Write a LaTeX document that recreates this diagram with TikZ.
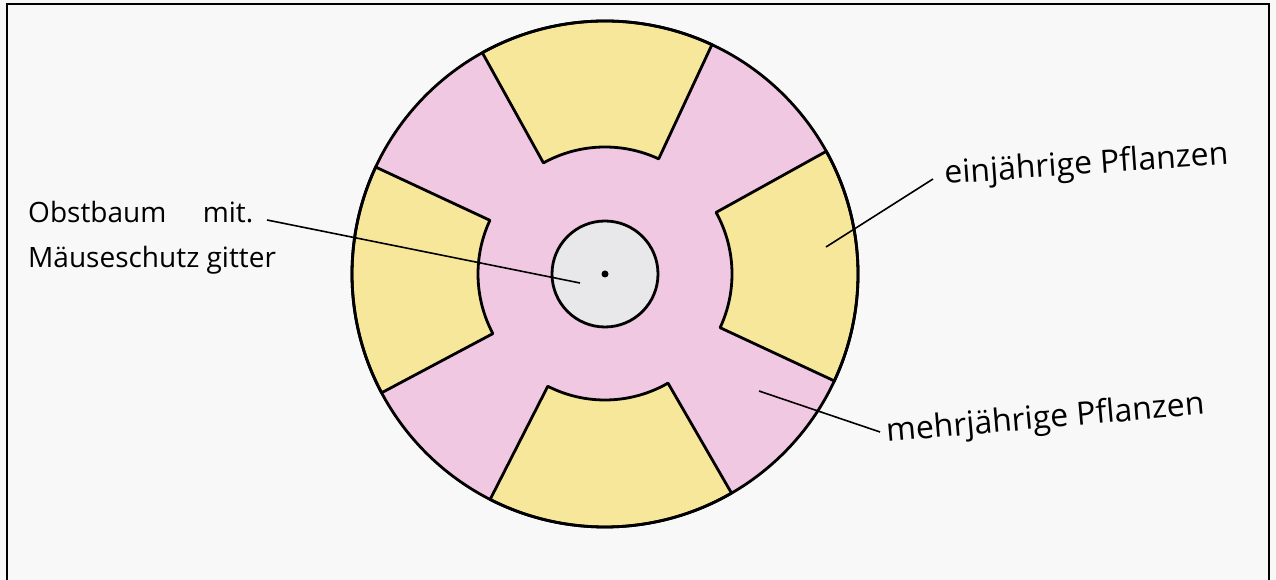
\documentclass[tikz,border=0pt]{standalone}
\usepackage{fontspec}
\setmainfont{Open Sans}
\definecolor{paper}{RGB}{248,248,248}
\definecolor{pinkf}{RGB}{241,200,226}
\definecolor{yel}{RGB}{247,231,155}
\definecolor{grayf}{RGB}{232,232,234}
\begin{document}
\begin{tikzpicture}[x=1pt,y=1pt,
  ink/.style={line width=2.8pt, draw=black, line join=round},
  lead/.style={line width=1.6pt, draw=black},
  lbl/.style={font=\fontsize{28}{34}\selectfont, inner sep=0pt, anchor=base west},
  lblr/.style={lbl, font=\fontsize{32}{38}\selectfont},
  sector/.style={fill=yel, ink}]
\useasboundingbox (0,0) rectangle (1276,580);
\fill[paper] (0,0) rectangle (1276,580);
\draw[line width=1.6pt] (7,-2) -- (7,576) -- (1269,576) -- (1269,-2);
\coordinate (c) at (605,306);
\begin{scope}[shift={(c)}]
  \fill[pinkf] (0,0) circle[radius=253];
  \draw[sector] (65:253) arc[start angle=65,end angle=119,radius=253] -- (119:127) arc[start angle=119,end angle=65,radius=127] -- cycle;
  \draw[sector] (-25:253) arc[start angle=-25,end angle=29,radius=253] -- (29:127) arc[start angle=29,end angle=-25,radius=127] -- cycle;
  \draw[sector] (243:253) arc[start angle=243,end angle=300,radius=253] -- (300:126) arc[start angle=300,end angle=243,radius=126] -- cycle;
  \draw[sector] (155:253) arc[start angle=155,end angle=208,radius=253] -- (208:127) arc[start angle=208,end angle=155,radius=127] -- cycle;
  \draw[ink] (0,0) circle[radius=253];
\end{scope}
\node[circle, ink, fill=grayf, minimum size=106, inner sep=0pt] (tree) at (c) {};
\node[circle, fill=black, minimum size=7, inner sep=0pt] (dot) at (c) {};
\node[lbl] (obst) at (28,357) {Obstbaum\hspace{1.3em}mit.};
\node[lbl] (maus) at (28,312) {Mäuseschutz gitter};
\node[lblr, rotate=4] (ein) at (945,396) {einjährige Pflanzen};
\node[lblr, rotate=5] (mehr) at (887,138) {mehrjährige Pflanzen};
\coordinate (obstEnd) at (267,360);
\coordinate (treePt) at (580,297);
\coordinate (einEnd) at (933,401);
\coordinate (einPt) at (826,333);
\coordinate (mehrEnd) at (880,148);
\coordinate (mehrPt) at (759,189);
\draw[lead] (obstEnd) -- (treePt);
\draw[lead] (einEnd) -- (einPt);
\draw[lead] (mehrEnd) -- (mehrPt);
\end{tikzpicture}
\end{document}
